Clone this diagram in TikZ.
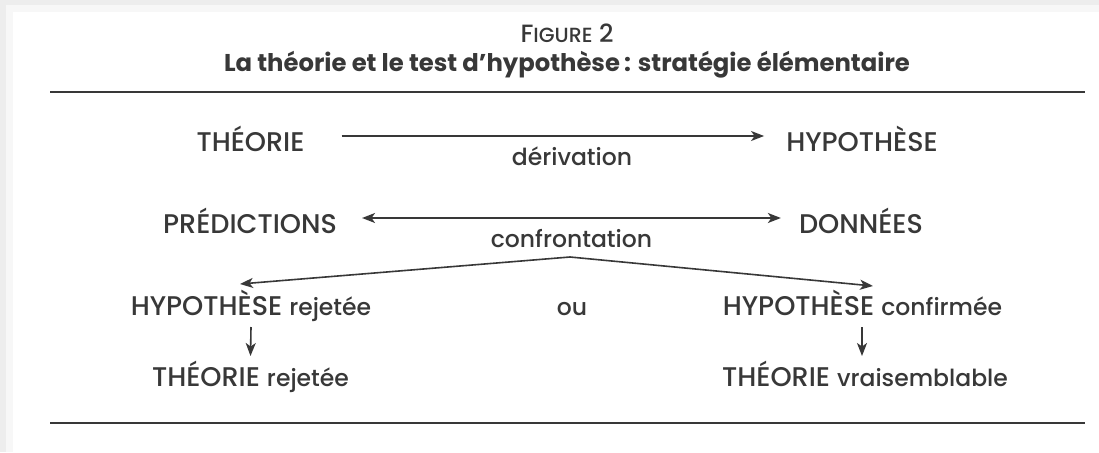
\documentclass[tikz,border=0pt]{standalone}
\usepackage{fontspec}
\setmainfont{Poppins}[UprightFont={* Medium},BoldFont={* Bold}]
\usetikzlibrary{arrows.meta}
\definecolor{ink}{HTML}{383838}
\definecolor{pagegray}{HTML}{EDEDED}
\newcommand{\lw}[1]{{\fontsize{23.5}{26}\selectfont #1}}
\begin{document}
\begin{tikzpicture}[x=1pt,y=-1pt,
  lbl/.style={inner sep=0pt,anchor=base,text=ink,font=\fontsize{27}{30}\selectfont},
  small/.style={inner sep=0pt,anchor=base,text=ink,font=\fontsize{23.5}{26}\selectfont},
  arr/.style={draw=ink,line width=1.6pt,-{Stealth[length=13pt,width=10pt,inset=3.5pt]}},
  darr/.style={draw=ink,line width=1.6pt,{Stealth[length=13pt,width=10pt,inset=3.5pt]}-{Stealth[length=13pt,width=10pt,inset=3.5pt]}},
  rule/.style={draw=ink,line width=2.4pt}]
\useasboundingbox (0,0) rectangle (1099,452);
% page and its soft edge
\fill[pagegray] (0,0) rectangle (1099,452);
\fill[gray!6] (6,5) rectangle (1099,452);
\fill[white] (13,12) rectangle (1099,452);

% heading
\node[lbl,font=\fontsize{25}{28}\selectfont] (fig) at (567,42) {F{\fontsize{20.5}{22}\selectfont IGURE} 2};
\node[lbl,font=\fontsize{24.3}{28}\selectfont\bfseries] (title) at (567,71)
  {La théorie et le test d’hypothèse\,: stratégie élémentaire};
\draw[rule] (50,92) -- (1085,92);

% first row
\node[lbl] (theo) at (250.5,151) {THÉORIE};
\node[lbl] (hyp) at (862,151) {HYPOTHÈSE};
\node[small] (deriv) at (572,165) {dérivation};
\draw[arr] ([xshift=37pt,yshift=15pt]theo.base east) -- ([xshift=-22pt,yshift=15pt]hyp.base west);

% second row
\node[lbl] (pred) at (250,233) {PRÉDICTIONS};
\node[lbl] (don) at (861,233) {DONNÉES};
\node[small] (confr) at (571.5,247) {confrontation};
\draw[darr] ([xshift=25pt,yshift=15pt]pred.base east) -- ([xshift=-18pt,yshift=15pt]don.base west);

% outcomes
\node[lbl] (hrej) at (251,315) {HYPOTHÈSE \lw{rejetée}};
\node[small] (ou) at (572,315) {ou};
\node[lbl] (hconf) at (862.5,315) {HYPOTHÈSE \lw{confirmée}};
\coordinate (apex) at ([xshift=-1.5pt,yshift=-10pt]confr.base);
\draw[arr,rounded corners=18pt] (apex) -- ([xshift=-11pt,yshift=31pt]hrej.base);
\draw[arr,rounded corners=18pt] (apex) -- ([xshift=10.5pt,yshift=29pt]hconf.base);

% consequences for the theory
\node[lbl] (trej) at (250.5,386) {THÉORIE \lw{rejetée}};
\node[lbl] (tvrai) at (865,386) {THÉORIE \lw{vraisemblable}};
\draw[arr] ([yshift=-12pt]hrej.base) -- ([yshift=30pt]trej.base);
\draw[arr] ([xshift=-0.5pt,yshift=-12pt]hconf.base) -- ([xshift=-3pt,yshift=30pt]tvrai.base);

\draw[rule] (50,423) -- (1085,423);
\end{tikzpicture}
\end{document}
